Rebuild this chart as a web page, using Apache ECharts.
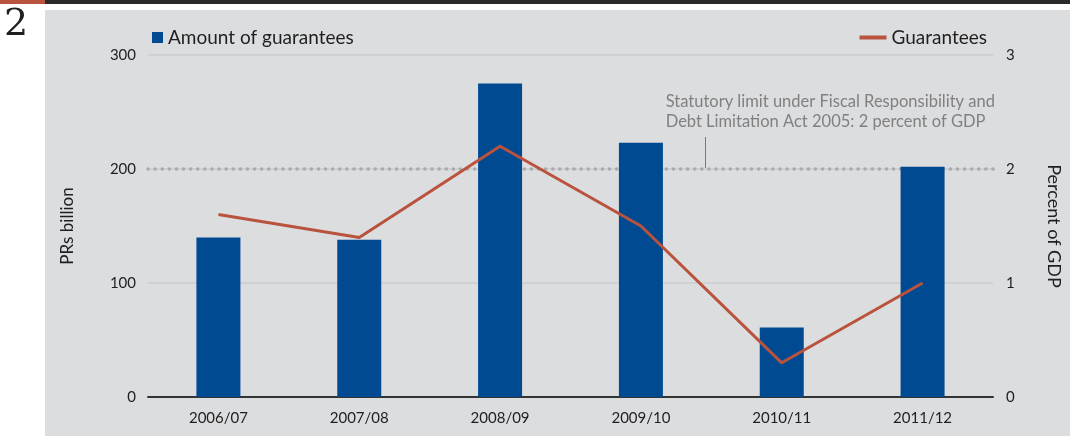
<!DOCTYPE html>
<html>
<head>
<meta charset="utf-8">
<script src="https://cdn.jsdelivr.net/npm/echarts@6/dist/echarts.min.js"></script>
<style>
  html, body { margin: 0; padding: 0; background: #fff; }
  #chart { width: 1070px; height: 436px; }
</style>
</head>
<body>
<div id="chart"></div>
<script>
// 数据
const years = ['2006/07', '2007/08', '2008/09', '2009/10', '2010/11', '2011/12'];
const amount = [140, 138, 275, 223, 61, 202];        // PRs billion
const pctGDP = [1.6, 1.4, 2.2, 1.5, 0.3, 1.0];        // percent of GDP
const limitLevel = 200;                               // 2 percent line on left scale
const limitNote = ['Statutory limit under Fiscal Responsibility and', 'Debt Limitation Act 2005: 2 percent of GDP'];

const FONT = 'Lato, "Open Sans", sans-serif';
const BLUE = '#004a92';
const RED = '#b9533d';
const INK = '#1f1f1f';

const chart = echarts.init(document.getElementById('chart'));
chart.setOption({
  animation: false,
  textStyle: { fontFamily: FONT },
  graphic: [
    { type: 'rect', shape: { x: 0, y: 0, width: 45, height: 4 }, style: { fill: RED }, z: -10 },
    { type: 'rect', shape: { x: 45, y: 0, width: 1025, height: 4 }, style: { fill: '#2a2a2a' }, z: -10 },
    { type: 'rect', shape: { x: 45, y: 10, width: 1025, height: 426 }, style: { fill: '#dcdddf' }, z: -10 },
    { type: 'text', left: 4, top: 6, style: { text: '2', font: '38px "DejaVu Serif", serif', fill: INK } },
    { type: 'text', right: 75, top: 92, style: { text: limitNote.join('\n'), font: '16.5px ' + FONT, fill: '#808080', align: 'right', lineHeight: 20 } },
    { type: 'line', shape: { x1: 705.5, y1: 137, x2: 705.5, y2: 168 }, style: { stroke: '#7a7a7a', lineWidth: 1 } }
  ],
  legend: [
    {
      data: ['Amount of guarantees'], left: 147, top: 23,
      itemWidth: 11, itemHeight: 11, icon: 'rect', itemGap: 8,
      textStyle: { fontSize: 19, color: INK, fontFamily: FONT }
    },
    {
      data: [{ name: 'Guarantees', icon: 'rect' }], right: 78, top: 23,
      itemWidth: 27, itemHeight: 4, itemGap: 8,
      textStyle: { fontSize: 19, color: INK, fontFamily: FONT }
    }
  ],
  grid: { left: 148, right: 77, top: 55, bottom: 39, outerBoundsMode: 'none' },
  xAxis: {
    type: 'category', data: years,
    axisLine: { lineStyle: { color: '#333', width: 2 } },
    axisTick: { show: false },
    axisLabel: { color: INK, fontSize: 15, margin: 14, fontFamily: FONT }
  },
  yAxis: [
    {
      type: 'value', min: 0, max: 300, interval: 100,
      name: 'PRs billion', nameLocation: 'middle', nameRotate: 90, nameGap: 72,
      nameTextStyle: { fontSize: 17, color: INK, fontFamily: FONT },
      axisLine: { show: false }, axisTick: { show: false },
      axisLabel: { color: INK, fontSize: 15, margin: 12, fontFamily: FONT },
      splitLine: { lineStyle: { color: '#cfd0d2', width: 2 } }
    },
    {
      type: 'value', min: 0, max: 3, interval: 1,
      name: 'Percent of GDP', nameLocation: 'middle', nameRotate: -90, nameGap: 52,
      nameTextStyle: { fontSize: 18, color: INK, fontFamily: FONT },
      axisLine: { show: false }, axisTick: { show: false },
      axisLabel: { color: INK, fontSize: 15, margin: 13, fontFamily: FONT },
      splitLine: { show: false }
    }
  ],
  series: [
    {
      name: 'limit', type: 'line', data: [], z: 1, silent: true,
      markLine: {
        z: 1,
        symbol: 'none', silent: true, label: { show: false },
        lineStyle: { type: [0.1, 7], color: '#a9aaac', width: 3.5, cap: 'round' },
        data: [{ yAxis: limitLevel }]
      }
    },
    {
      name: 'Amount of guarantees', type: 'bar', data: amount, barWidth: 44, z: 3,
      itemStyle: { color: BLUE }
    },
    {
      name: 'Guarantees', type: 'line', yAxisIndex: 1, data: pctGDP, z: 4,
      symbol: 'none', lineStyle: { color: RED, width: 3 }, itemStyle: { color: RED }
    }
  ]
});
</script>
</body>
</html>
